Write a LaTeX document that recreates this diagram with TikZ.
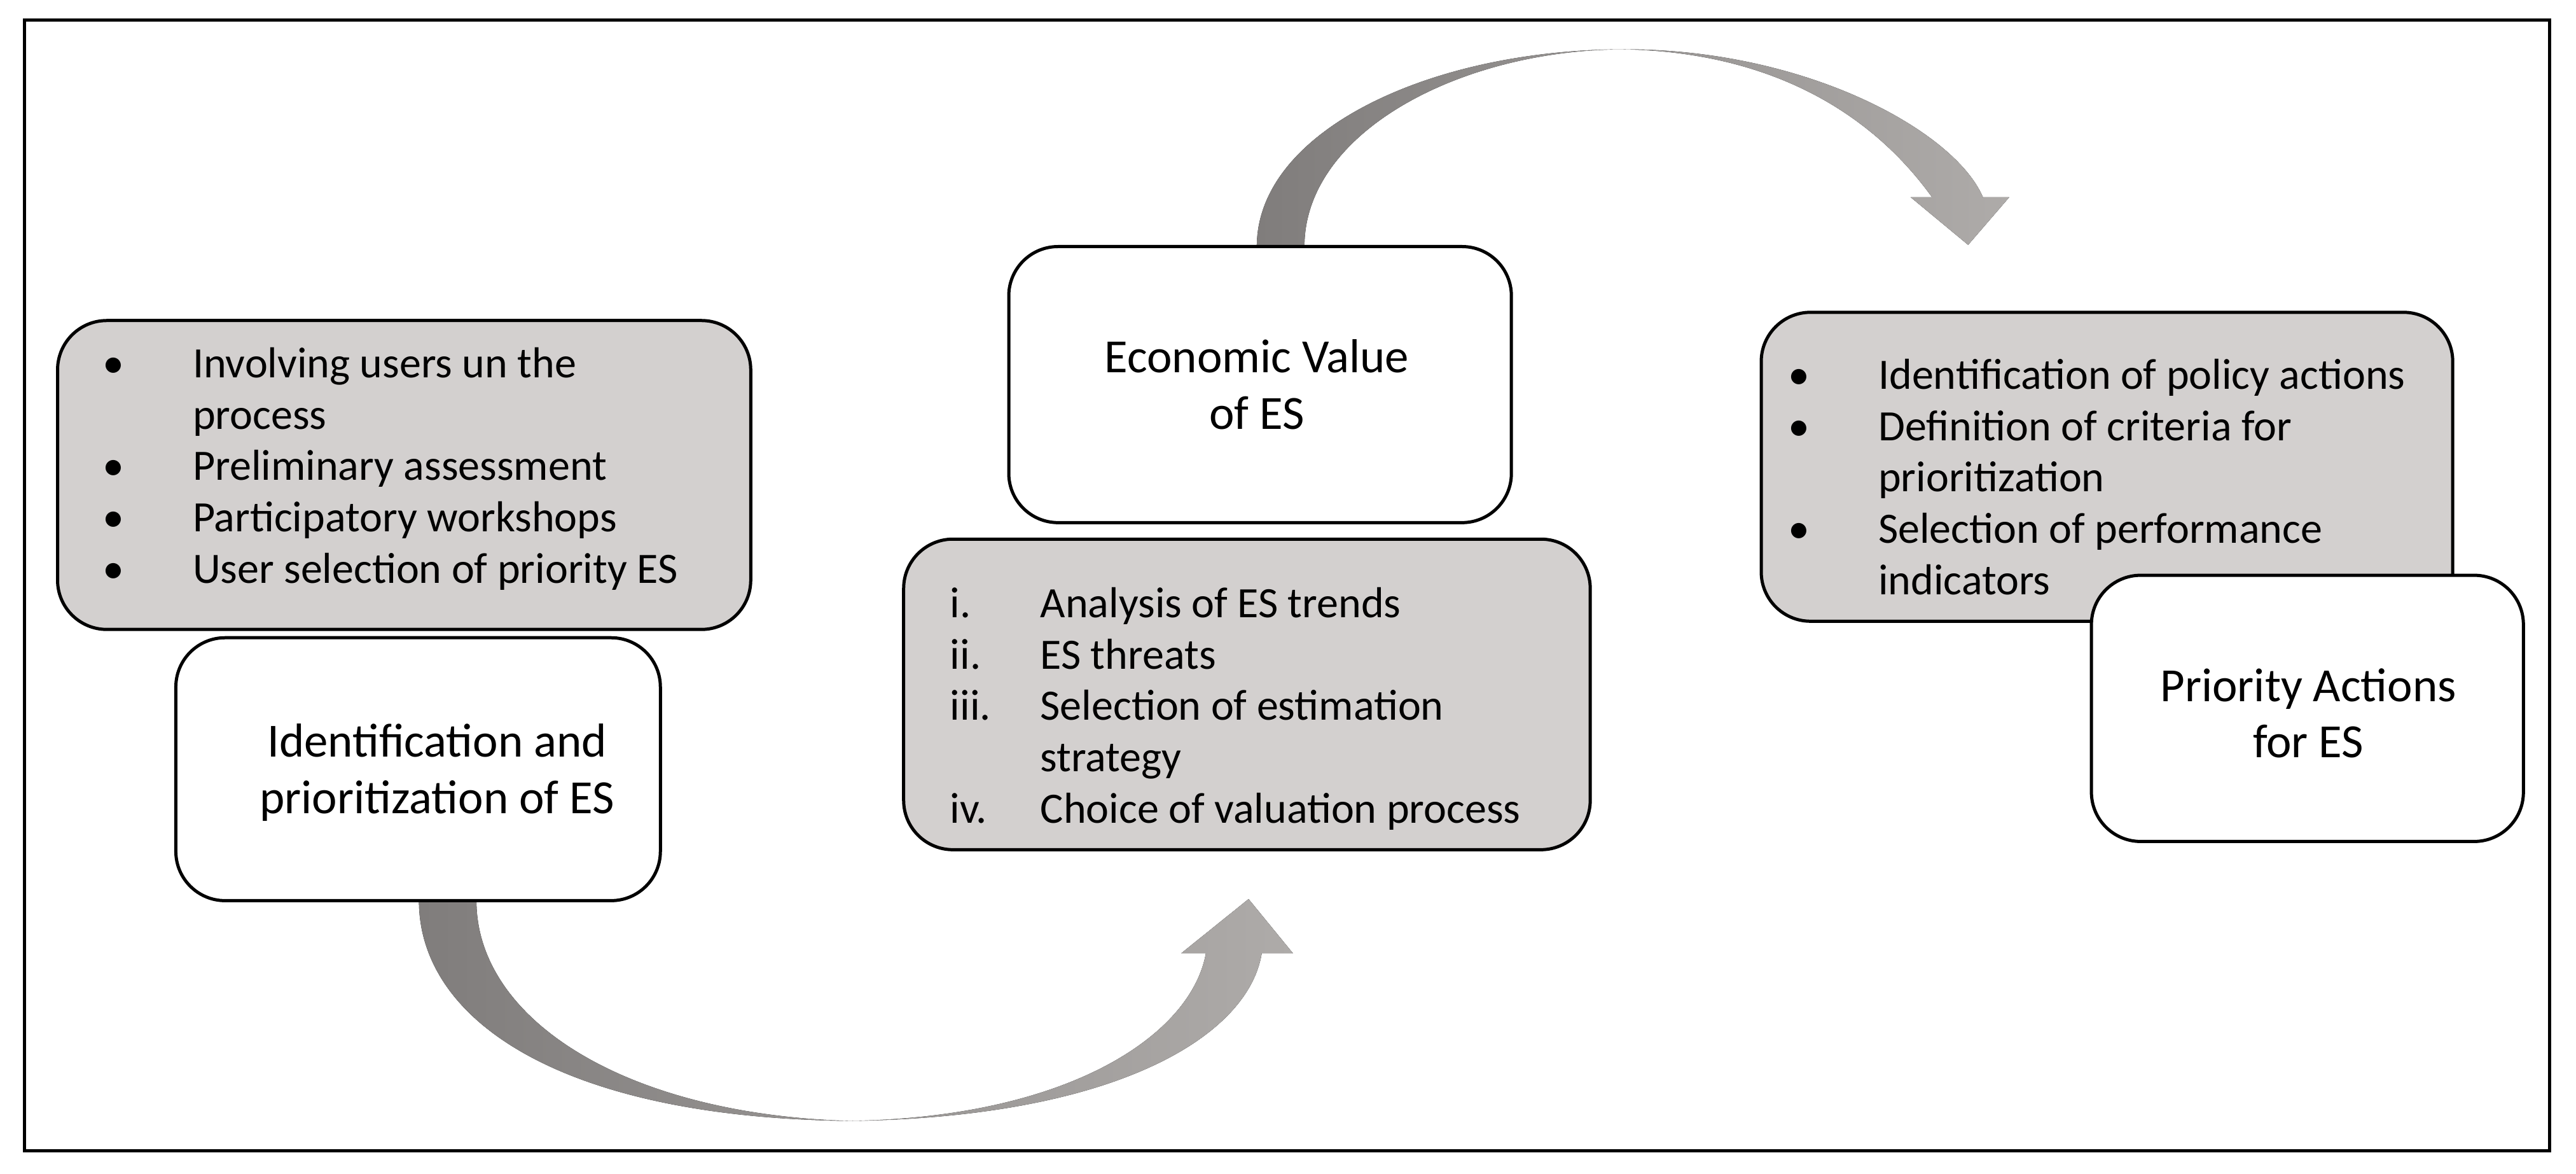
\documentclass[tikz,border=0pt]{standalone}
\usepackage{fontspec}
\setmainfont{Carlito}
\usepackage{array}
\definecolor{boxgray}{RGB}{211,208,207}
\definecolor{arrdark}{RGB}{128,125,124}
\definecolor{arrlight}{RGB}{174,171,169}
\begin{document}
\begin{tikzpicture}[x=0.02cm,y=-0.02cm,
  box/.style={draw=black,line width=1.1pt,rounded corners=0.6cm,inner sep=0pt},
  gbox/.style={box,fill=boxgray},
  wbox/.style={box,fill=white},
  txt/.style={font=\fontsize{16.5}{19.5}\selectfont,inner sep=0pt,align=center},
  ltxt/.style={font=\fontsize{15}{17.8}\selectfont,inner sep=0pt,anchor=west},
  band/.style={left color=arrdark,right color=arrlight,draw=none}]
\useasboundingbox (0,0) rectangle (1568,714);
\draw[line width=1.1pt] (15,12) rectangle (1552,700);
% arrows
\fill[band] (255,548) .. controls (255,620) and (340,680) .. (517,682)
  .. controls (680,680) and (760,630) .. (768,580) -- (787,580) -- (760,547) -- (719,580) -- (734,580)
  .. controls (725,630) and (650,680) .. (517,682)
  .. controls (380,678) and (290,620) .. (290,548) -- cycle;
\fill[band] (765,150) .. controls (765,80) and (870,30) .. (989,30)
  .. controls (1100,30) and (1190,80) .. (1207,120) -- (1223,120) -- (1198,149) -- (1163,120) -- (1176,120)
  .. controls (1140,70) and (1080,32) .. (989,30)
  .. controls (890,30) and (794,80) .. (794,150) -- cycle;
% boxes
\node[gbox,minimum width=8.44cm,minimum height=3.76cm] (b1) at (246,289) {};
\node[wbox,minimum width=5.9cm,minimum height=3.2cm] (b2) at (254.5,468) {};
\node[wbox,minimum width=6.12cm,minimum height=3.36cm] (b3) at (767,234) {};
\node[gbox,minimum width=8.36cm,minimum height=3.78cm] (b4) at (759,422.5) {};
\node[gbox,minimum width=8.42cm,minimum height=3.76cm] (b5) at (1282.5,284) {};
% texts
\node[ltxt] (t1) at (62,286) {\begin{tabular}{@{}p{1.1cm}@{}l@{}}
\textbullet & Involving users un the\\ & process\\
\textbullet & Preliminary assessment\\
\textbullet & Participatory workshops\\
\textbullet & User selection of priority ES\end{tabular}};
\node[txt] (t2) at (266,470) {Identification and\\prioritization of ES};
\node[txt] (t3) at (765,234) {Economic Value\\of ES};
\node[ltxt] (t4) at (578,432) {\begin{tabular}{@{}p{1.1cm}@{}l@{}}
i. & Analysis of ES trends\\
ii. & ES threats\\
iii. & Selection of estimation\\ & strategy\\
iv. & Choice of valuation process\end{tabular}};
\node[ltxt] (t5) at (1088,293) {\begin{tabular}{@{}p{1.1cm}@{}l@{}}
\textbullet & Identification of policy actions\\
\textbullet & Definition of criteria for\\ & prioritization\\
\textbullet & Selection of performance\\ & indicators\end{tabular}};
\node[wbox,minimum width=5.26cm,minimum height=3.24cm] (b6) at (1404.5,431) {};
\node[txt] (t6) at (1405,434) {Priority Actions\\for ES};
\end{tikzpicture}
\end{document}
